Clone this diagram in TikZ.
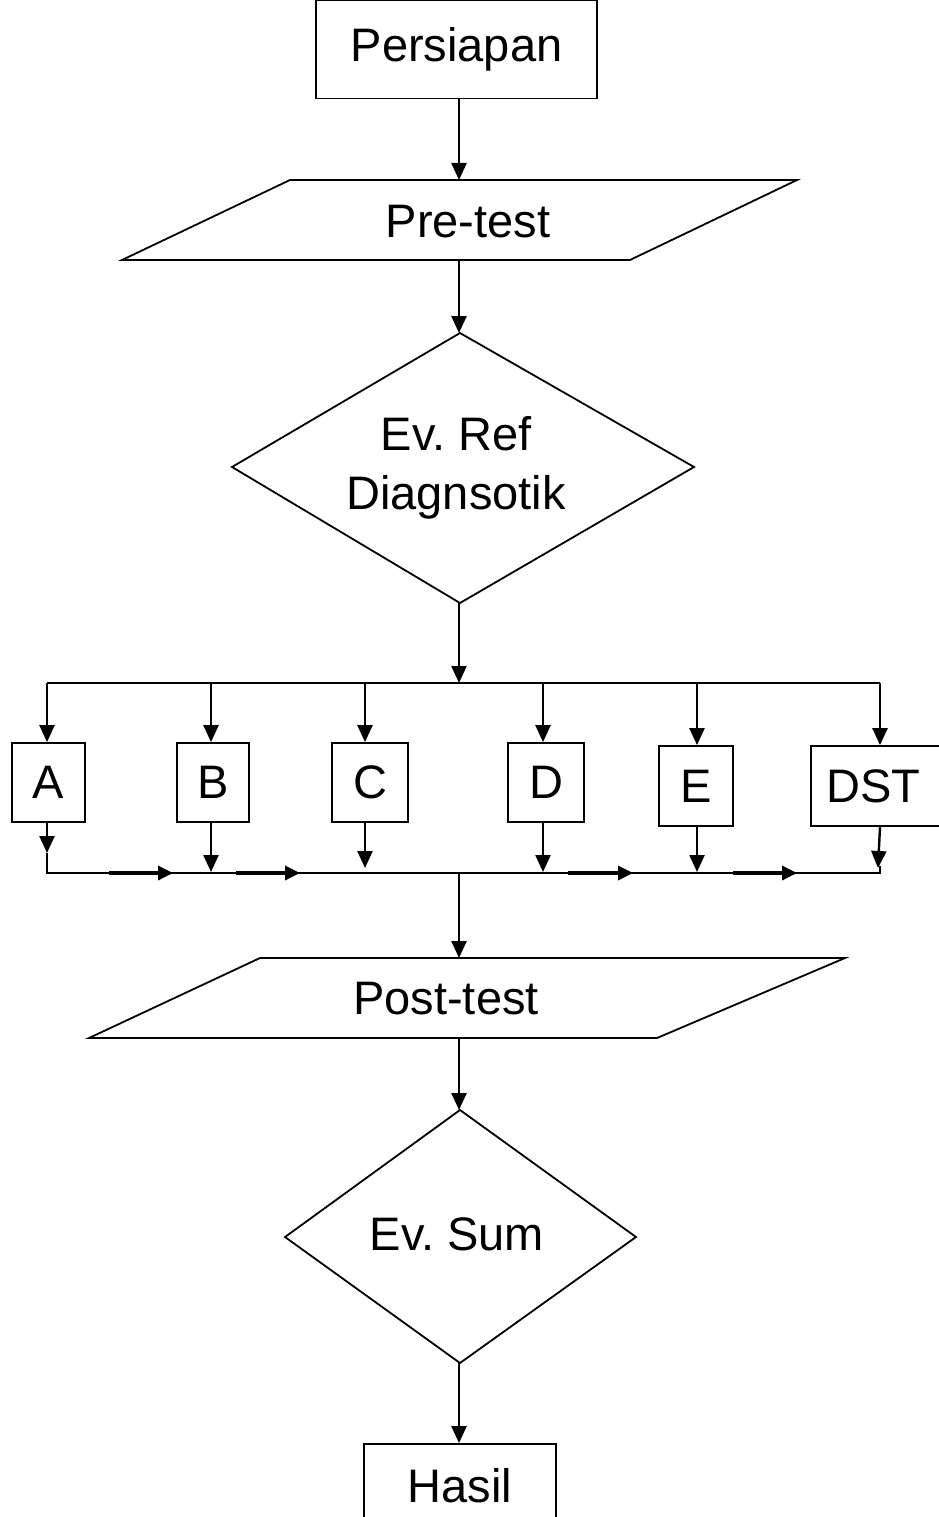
\documentclass[tikz,border=0pt]{standalone}
\usepackage{fontspec}
\setmainfont{Liberation Sans}
\usetikzlibrary{arrows.meta}
\begin{document}
\frenchspacing
\begin{tikzpicture}[x=1pt,y=-1pt,
  line width=2.3pt,
  >={Triangle[length=17pt,width=15pt]},
  lbl/.style={font=\fontsize{47}{59}\selectfont, inner sep=0pt},
  box/.style={draw, line width=1.8pt, inner sep=0pt, font=\fontsize{47}{59}\selectfont, anchor=center},
  shp/.style={draw, line width=1.8pt},
  flow/.style={->, line width=2.4pt},
  bus/.style={line width=1.9pt},
  busarrow/.style={-{Triangle[length=15pt,width=14pt]}, line width=3.4pt}]
\useasboundingbox (0,0) rectangle (938,1517);

% Persiapan
\node[box, minimum width=281pt, minimum height=98pt] (pers) at (456.5,49.5) {Persiapan};

% Pre-test parallelogram
\draw[shp] (290,180) -- (797,180) -- (630,260) -- (122,260) -- cycle;
\node[lbl] (pre) at (468,222) {Pre-test};
\coordinate (preT) at (459,180);
\coordinate (preB) at (459,260);

% Diamond 1
\draw[shp] (460,333) -- (694,467) -- (460,603) -- (232,467) -- cycle;
\node[lbl, align=center] (ref) at (456,468) {Ev. Ref\\Diagnsotik};
\coordinate (d1T) at (459,333);
\coordinate (d1B) at (459,603);

% top bus
\coordinate (bt) at (459,683);
\coordinate (btL) at (47,683);
\coordinate (btR) at (880,683);

% boxes
\node[box, minimum width=73pt, minimum height=79pt] (A) at (48.5,782.5) {A};
\node[box, minimum width=72pt, minimum height=79pt] (B) at (213,782.5) {B};
\node[box, minimum width=76pt, minimum height=79pt] (C) at (370,782.5) {C};
\node[box, minimum width=76pt, minimum height=79pt] (D) at (546,782.5) {D};
\node[box, minimum width=74pt, minimum height=80pt] (E) at (696,786) {E};
\node[box, minimum width=130pt, minimum height=80pt, text width=127pt, align=left] (DST) at (876,786) {\hspace{14pt}DST};

% bottom bus
\coordinate (bbL) at (47,873);
\coordinate (bbR) at (880,873);
\coordinate (bb) at (459,873);

% Post-test parallelogram
\draw[shp] (260,958) -- (845,958) -- (657,1038) -- (89,1038) -- cycle;
\node[lbl] (post) at (446,999) {Post-test};
\coordinate (postT) at (459,958);
\coordinate (postB) at (459,1038);

% Diamond 2
\draw[shp] (460,1110) -- (636,1237) -- (460,1363) -- (285,1237) -- cycle;
\node[lbl] (sum) at (457,1234) {Ev. Sum};
\coordinate (d2T) at (459,1110);
\coordinate (d2B) at (459,1363);

% Hasil
\node[box, minimum width=192pt, minimum height=84pt] (hasil) at (460,1486) {Hasil};

% connectors main
\draw[flow] (pers.south -| preT) -- (preT);
\draw[flow] (preB) -- (d1T);
\draw[flow] (d1B) -- (bt);
\draw[bus] (btL) -- (btR);
\foreach \n/\x in {A/47,B/211,C/365,D/543,E/697,DST/880}{
  \draw[flow] (\x,683) -- (\x,0 |- \n.north);
}
% down from boxes
\draw[flow] (A.south -| btL) -- (47,853);
\draw[flow] (B.south -| 211,0) -- (211,872);
\draw[flow] (C.south -| 365,0) -- (365,868);
\draw[flow] (D.south -| 543,0) -- (543,872);
\draw[flow] (E.south -| 697,0) -- (697,872);
\draw[flow] (DST.south -| 880,0) -- (878,868);
\draw[bus] (47,853) -- (bbL) -- (bbR) -- (880,866);
% bus arrows
\draw[busarrow] (109,873) -- (173,873);
\draw[busarrow] (236,873) -- (300,873);
\draw[busarrow] (568,873) -- (633,873);
\draw[busarrow] (733,873) -- (797,873);

\draw[flow] (bb) -- (postT);
\draw[flow] (postB) -- (d2T);
\draw[flow] (d2B) -- (d2B |- hasil.north);
\end{tikzpicture}
\end{document}
